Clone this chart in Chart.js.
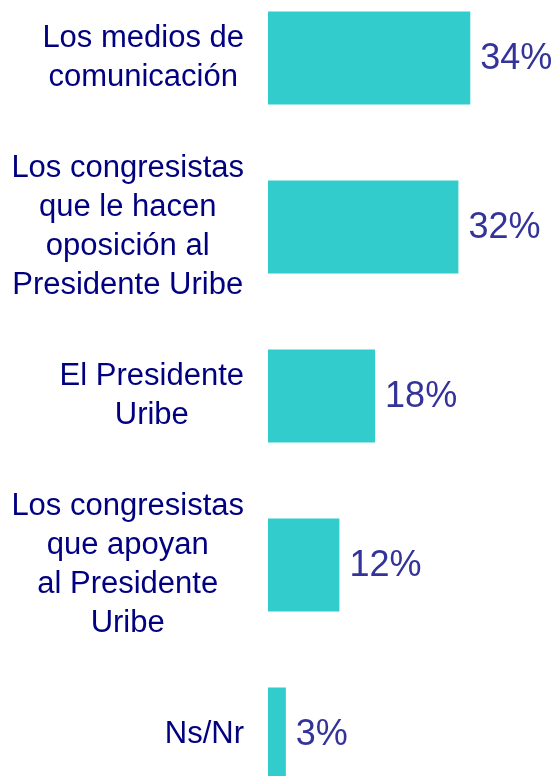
<!DOCTYPE html>
<html lang="es">
<head>
    <meta charset="UTF-8">
    <title>Responsables</title>
    <script src="https://cdn.jsdelivr.net/npm/chart.js"></script>
    <style>
        html, body { margin: 0; padding: 0; background: #fff; overflow: hidden; }
        #wrap { width: 557px; height: 776px; }
    </style>
</head>
<body>
<div id="wrap"><canvas id="grafico"></canvas></div>
<script>
    // Categorías (cada una con sus líneas) y porcentajes
    const categorias = [
        ['Los medios de', 'comunicación'],
        ['Los congresistas', 'que le hacen', 'oposición al', 'Presidente Uribe'],
        ['El Presidente', 'Uribe'],
        ['Los congresistas', 'que apoyan', 'al Presidente', 'Uribe'],
        ['Ns/Nr']
    ];
    const valores = [34, 32, 18, 12, 3];

    const FUENTE = '"Liberation Sans", Arial, sans-serif';

    // Etiquetas de categoría: bloque alineado a la derecha, líneas centradas
    const etiquetasPlugin = {
        id: 'etiquetas',
        afterDraw(chart) {
            const ctx = chart.ctx;
            const y = chart.scales.y;
            ctx.save();
            ctx.font = '31px ' + FUENTE;
            ctx.fillStyle = '#000080';
            ctx.textAlign = 'center';
            ctx.textBaseline = 'middle';
            const derecha = 244;
            const alto = 38.7;
            categorias.forEach((lineas, i) => {
                const cy = y.getPixelForValue(i);
                const ancho = Math.max(...lineas.map(l => ctx.measureText(l).width));
                const cx = derecha - ancho / 2;
                const inicio = cy - (lineas.length - 1) * alto / 2;
                lineas.forEach((l, j) => ctx.fillText(l, cx, inicio + j * alto));
            });

            // Valores al final de cada barra
            ctx.font = '36px ' + FUENTE;
            ctx.fillStyle = '#333399';
            ctx.textAlign = 'left';
            const meta = chart.getDatasetMeta(0);
            meta.data.forEach((bar, i) => {
                ctx.fillText(valores[i] + '%', bar.x + 10, bar.y + 1);
            });
            ctx.restore();
        }
    };

    const ctx = document.getElementById('grafico').getContext('2d');
    const chart = new Chart(ctx, {
        type: 'bar',
        data: {
            labels: categorias.map(c => c.join(' ')),
            datasets: [{
                data: valores,
                backgroundColor: '#33CCCC',
                borderWidth: 0,
                categoryPercentage: 1,
                barPercentage: 0.55,
                clip: false
            }]
        },
        options: {
            indexAxis: 'y',
            responsive: true,
            maintainAspectRatio: false,
            animation: false,
            layout: { padding: { left: 268, right: 51, top: 58, bottom: 42 } },
            plugins: { legend: { display: false }, tooltip: { enabled: false } },
            scales: {
                x: { display: false, min: 0, max: 40 },
                y: { display: false, offset: false }
            }
        },
        plugins: [etiquetasPlugin]
    });
</script>
</body>
</html>
